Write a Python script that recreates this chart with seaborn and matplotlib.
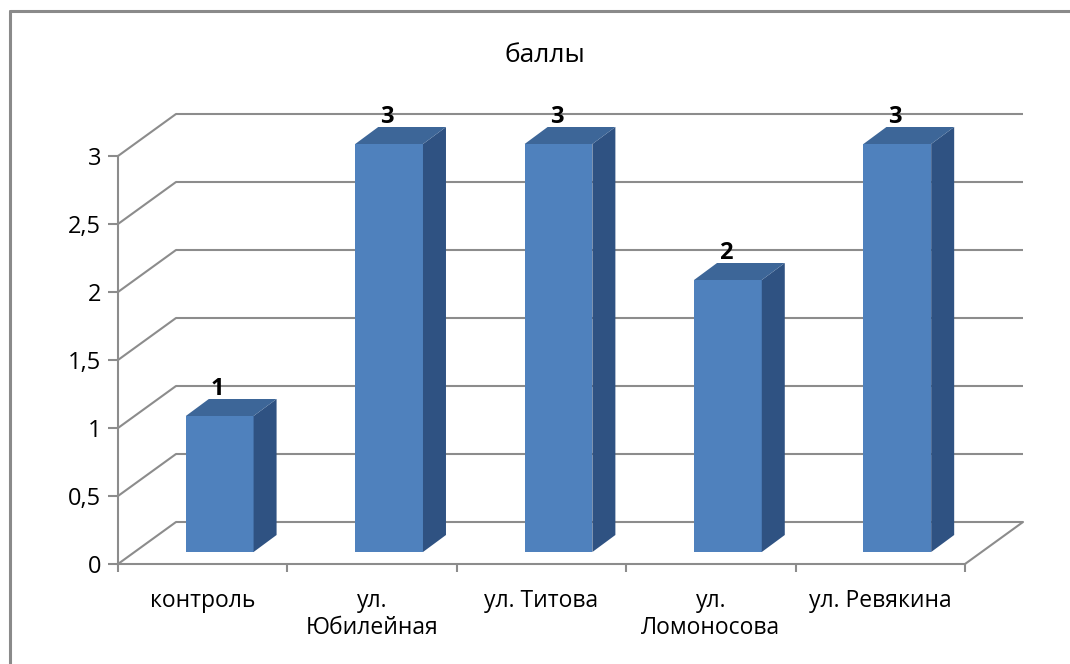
import pandas as pd
import seaborn as sns
import matplotlib.pyplot as plt
from matplotlib.patches import Polygon
from matplotlib.lines import Line2D

# data
categories = ['контроль', 'ул.\nЮбилейная', 'ул. Титова', 'ул.\nЛомоносова', 'ул. Ревякина']
scores = [1, 3, 3, 2, 3]
y_ticks = [0, 0.5, 1, 1.5, 2, 2.5, 3]
y_tick_labels = ['0', '0,5', '1', '1,5', '2', '2,5', '3']
title = 'баллы'

df = pd.DataFrame({'place': categories, 'score': scores})

sns.set_style('white')
plt.rcParams['font.family'] = ['Open Sans', 'DejaVu Sans']
plt.rcParams['text.color'] = 'black'
plt.rcParams['xtick.labelcolor'] = 'black'
plt.rcParams['ytick.labelcolor'] = 'black'

W, H = 1070, 664
fig = plt.figure(figsize=(W / 100, H / 100), dpi=100)

grid_col = '#8c8c8c'
front_col = '#4f81bd'
top_col = '#3d6698'
side_col = '#2f5282'

# bar plane in pixels (left, right, y of 0, y of 3 -- measured from top)
bx0, bx1, by0, by3 = 135, 982, 552, 144
front_off = (-17, -12)   # front (axis) plane relative to bar plane, px
back_off = (41, 30)      # back wall relative to bar plane, px
depth = (23, 17)         # bar depth, px


def rect(off):
    dx, dy = off
    return [(bx0 + dx) / W, (H - by0 + dy) / H, (bx1 - bx0) / W, (by0 - by3) / H]


ax_back = fig.add_axes(rect(back_off))
ax_front = fig.add_axes(rect(front_off))
ax = fig.add_axes(rect((0, 0)))

xlim = (-0.5, len(categories) - 0.5)
for a in (ax_back, ax_front, ax):
    a.set_xlim(*xlim)
    a.set_ylim(0, 3)
    a.patch.set_alpha(0)

px_x = (bx1 - bx0) / (xlim[1] - xlim[0])
px_y = (by0 - by3) / 3

# back wall + left wall gridlines
ax_back.axis('off')
ax_back.hlines(y_ticks, xlim[0], xlim[1], color=grid_col, lw=1.5, clip_on=False)
ddx = (front_off[0] - back_off[0]) / px_x
ddy = (front_off[1] - back_off[1]) / px_y
for v in y_ticks:
    ax_back.add_line(Line2D([xlim[0] + ddx, xlim[0]], [v + ddy, v], color=grid_col,
                            lw=1.5, clip_on=False))
# right edge of the floor
ax_back.add_line(Line2D([xlim[1] + ddx, xlim[1]], [ddy, 0], color=grid_col,
                        lw=1.5, clip_on=False))

# front axis: ticks and labels
for s in ['top', 'right']:
    ax_front.spines[s].set_visible(False)
for s in ['left', 'bottom']:
    ax_front.spines[s].set_color(grid_col)
    ax_front.spines[s].set_linewidth(1.5)
ax_front.set_yticks(y_ticks)
ax_front.set_yticklabels(y_tick_labels)
ax_front.set_xticks(range(len(categories)))
ax_front.set_xticklabels(categories, linespacing=1.15)
ax_front.set_xticks([i - 0.5 for i in range(len(categories) + 1)], minor=True)
ax_front.tick_params(axis='y', direction='out', length=7, width=1.5, color=grid_col,
                     labelsize=17, pad=5, left=True)
ax_front.tick_params(axis='x', which='major', length=0, labelsize=16.5, pad=18)
ax_front.tick_params(axis='x', which='minor', direction='out', length=6, width=1.5,
                     color=grid_col, bottom=True)

# bars
sns.barplot(data=df, x='place', y='score', ax=ax, width=0.4, color=front_col,
            saturation=1, linewidth=0)
ax.set_xlim(*xlim)
ax.set_ylim(0, 3)
ax.axis('off')

dx, dy = depth[0] / px_x, depth[1] / px_y
for p, v in zip(ax.patches, scores):
    x0 = p.get_x()
    x1 = x0 + p.get_width()
    h = p.get_height()
    ax.add_patch(Polygon([(x1, 0), (x1 + dx, dy), (x1 + dx, h + dy), (x1, h)],
                         closed=True, fc=side_col, ec='none', clip_on=False))
    ax.add_patch(Polygon([(x0, h), (x1, h), (x1 + dx, h + dy), (x0 + dx, h + dy)],
                         closed=True, fc=top_col, ec='none', clip_on=False))
    ax.text((x0 + x1) / 2 - 2 / px_x, h + 21 / px_y, str(v), ha='center', va='baseline',
            fontsize=17, fontweight='bold', color='black', clip_on=False)

fig.text(545 / W, (H - 55) / H, title, ha='center', va='center', fontsize=19)

# outer frame (only top and left edges visible)
fig.add_artist(Line2D([10 / W, 10 / W], [0, (H - 11) / H], color='#8a8a8a', lw=2.2,
                      transform=fig.transFigure))
fig.add_artist(Line2D([10 / W, 1], [(H - 11) / H, (H - 11) / H], color='#8a8a8a', lw=2.2,
                      transform=fig.transFigure))

fig.savefig('out.png', dpi=100)
